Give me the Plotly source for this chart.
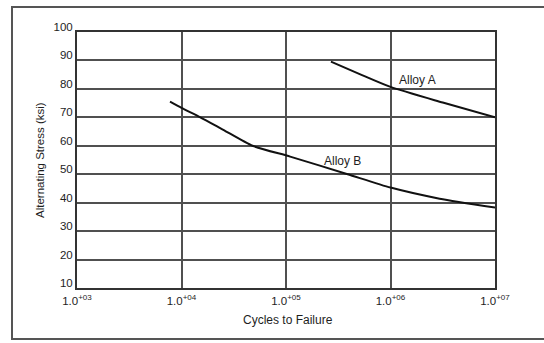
import plotly.graph_objects as go

# Data (cycles as log10 exponent, stress in ksi)
alloy_a_logN = [5.43, 5.7, 6.0, 6.5, 7.0]
alloy_a_ksi = [89.6, 85.3, 80.7, 75.2, 70.0]

alloy_b_logN = [3.89, 4.0, 4.18, 4.4, 4.68, 5.04, 5.59, 6.0, 6.47, 7.0]
alloy_b_ksi = [75.5, 73.3, 70.0, 65.6, 60.0, 56.2, 50.0, 45.3, 41.4, 38.3]

x_tick_exps = [3, 4, 5, 6, 7]
x_tick_labels = ["1.0<sup>+0%d</sup>" % e for e in x_tick_exps]
y_ticks = [10, 20, 30, 40, 50, 60, 70, 80, 90, 100]

FONT = "Liberation Sans, Arial, sans-serif"
TXT = "#1e1e1e"
GRID = "#505050"

fig = go.Figure()
fig.add_trace(go.Scatter(
    x=[10 ** v for v in alloy_a_logN], y=alloy_a_ksi, mode="lines",
    line=dict(color="#111111", width=2, shape="spline", smoothing=0.7),
    name="Alloy A", showlegend=False, hoverinfo="skip"))
fig.add_trace(go.Scatter(
    x=[10 ** v for v in alloy_b_logN], y=alloy_b_ksi, mode="lines",
    line=dict(color="#111111", width=2, shape="spline", smoothing=0.6),
    name="Alloy B", showlegend=False, hoverinfo="skip"))

fig.update_layout(
    width=544, height=343,
    margin=dict(l=77, r=49, t=32, b=55),
    paper_bgcolor="white", plot_bgcolor="white",
    font=dict(family=FONT, size=11.5, color=TXT),
    xaxis=dict(
        type="log", range=[3, 7],
        tickvals=[10 ** e for e in x_tick_exps], ticktext=x_tick_labels,
        showgrid=True, gridcolor=GRID, gridwidth=1.5,
        showline=True, linecolor="#333333", linewidth=2, mirror=True,
        ticks="", ticklabelstandoff=1,
        tickfont=dict(family=FONT, size=11.5, color=TXT),
        zeroline=False,
    ),
    yaxis=dict(
        range=[10, 100], tickvals=y_ticks,
        showgrid=True, gridcolor=GRID, gridwidth=1.5,
        showline=True, linecolor="#333333", linewidth=2, mirror=True,
        ticks="", ticklabelstandoff=0, ticklabelshift=-5,
        tickfont=dict(family=FONT, size=11.5, color=TXT),
        zeroline=False,
    ),
    shapes=[dict(
        type="rect", xref="paper", yref="paper",
        x0=-0.1555, x1=1.13, y0=-0.199, y1=1.0977,
        line=dict(color="#555555", width=2), layer="below")],
    annotations=[
        dict(text="Alternating Stress (ksi)", xref="paper", yref="paper",
             x=-0.0885, y=0.5, textangle=-90, showarrow=False,
             xanchor="center", yanchor="middle",
             font=dict(family=FONT, size=11.5, color=TXT)),
        dict(text="Cycles to Failure", xref="paper", yref="paper",
             x=0.505, y=-0.125, showarrow=False,
             xanchor="center", yanchor="middle",
             font=dict(family=FONT, size=12, color=TXT)),
        dict(text="Alloy A", x=6.263, y=83.1, showarrow=False,
             xanchor="center", yanchor="middle",
             font=dict(family=FONT, size=12, color=TXT)),
        dict(text="Alloy B", x=5.54, y=54.6, showarrow=False,
             xanchor="center", yanchor="middle",
             font=dict(family=FONT, size=12, color=TXT)),
    ],
)

fig.write_html("out.html", config={"displayModeBar": False},
               post_script="document.body.style.margin='0';document.body.style.overflow='hidden';")
